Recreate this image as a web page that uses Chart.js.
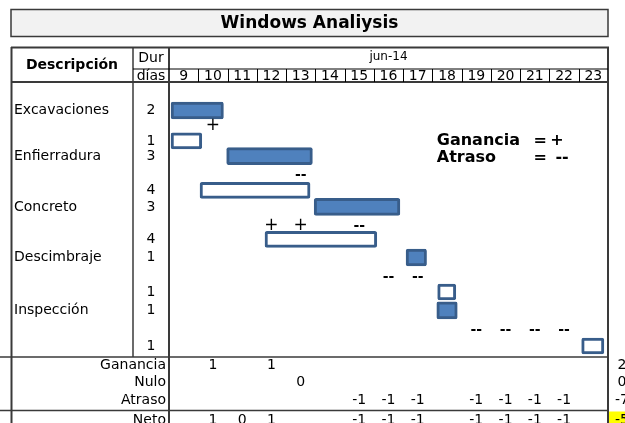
<!DOCTYPE html>
<html>
<head>
<meta charset="utf-8">
<script src="https://cdn.jsdelivr.net/npm/chart.js@4/dist/chart.umd.min.js"></script>
<style>
  html, body { margin: 0; padding: 0; background: #fff; }
  canvas { display: block; }
</style>
</head>
<body>
<canvas id="gantt" width="625" height="423"></canvas>
<script>
// datos del cuadro
const chartTitle = 'Windows Analiysis';
const monthLabel = 'jun-14';
const days = [9, 10, 11, 12, 13, 14, 15, 16, 17, 18, 19, 20, 21, 22, 23];

const tasks = ['Excavaciones', 'Enfierradura', 'Concreto', 'Descimbraje', 'Inspección'];
const durPlan = [2, 3, 3, 1, 1];
const durReal = [1, 4, 4, 1, 1];

// barras (en días)
const planStart = [9.07, 10.97, 13.96, 17.1, 18.15];
const planEnd = [10.86, 13.9, 16.89, 17.8, 18.85];
const realStart = [9.07, 10.06, 12.28, 18.18, 23.1];
const realEnd = [10.12, 13.82, 16.1, 18.8, 23.86];

// filas (eje vertical)
const planRow = [1.66, 4.31, 7.27, 10.21, 13.29];
const realRow = [3.43, 6.31, 9.16, 12.22, 15.36];
const markRow = [2.53, 5.41, 8.38, 11.35, 14.46];

// marcas + y --
const gainDays = [[10], [], [12, 13], [], []];
const delayDays = [[], [13], [15], [16, 17], [19, 20, 21, 22]];

// resumen
const summaryLabels = ['Ganancia', 'Nulo', 'Atraso', 'Neto'];
const summaryRows = [16.47, 17.47, 18.53, 19.7];
const ganancia = ['', 1, '', 1, '', '', '', '', '', '', '', '', '', '', ''];
const nulo = ['', '', '', '', 0, '', '', '', '', '', '', '', '', '', ''];
const atraso = ['', '', '', '', '', '', -1, -1, -1, '', -1, -1, -1, -1, ''];
const neto = ['', 1, 0, 1, '', '', -1, -1, -1, '', -1, -1, -1, -1, ''];
const totals = [2, 0, -7, -5];

const FONT = '"DejaVu Sans", Verdana, sans-serif';
const LINE = '#3a3a3a';

function text(ctx, str, x, y, font, align) {
    ctx.font = font;
    ctx.textAlign = align || 'center';
    ctx.textBaseline = 'middle';
    ctx.fillStyle = '#000';
    ctx.fillText(String(str), x, y);
}

function line(ctx, x1, y1, x2, y2, w, color) {
    ctx.beginPath();
    ctx.lineWidth = w;
    ctx.strokeStyle = color || LINE;
    ctx.moveTo(x1, y1);
    ctx.lineTo(x2, y2);
    ctx.stroke();
}

// dibuja la tabla alrededor del gráfico
const tablePlugin = {
    id: 'tabla',
    beforeDraw(chart) {
        const ctx = chart.ctx;
        const a = chart.chartArea;
        ctx.save();
        // título
        ctx.fillStyle = '#f2f2f2';
        ctx.fillRect(11, 9.5, a.right - 11, 27);
        ctx.lineWidth = 1.5;
        ctx.strokeStyle = LINE;
        ctx.strokeRect(11, 9.5, a.right - 11, 27);
        text(ctx, chartTitle, (11 + a.right) / 2, 23.5, 'bold 17px ' + FONT);
        ctx.restore();
    },
    afterDraw(chart) {
        const ctx = chart.ctx;
        const a = chart.chartArea;
        const xs = chart.scales.x;
        const ys = chart.scales.y;
        const H = chart.height;
        const durX = 133;
        const dayTop = 69;
        const f = '14px ' + FONT;
        ctx.save();

        // líneas
        line(ctx, 11, 47.5, a.right + 1, 47.5, 2);
        line(ctx, 11.5, 47, 11.5, H, 2);
        line(ctx, a.right, 47, a.right, H, 2);
        line(ctx, a.left, 47, a.left, H, 2);
        line(ctx, durX, 47, durX, a.bottom, 1.5);
        line(ctx, durX, dayTop, a.right, dayTop, 1, '#000');
        line(ctx, 11, a.top, a.right, a.top, 2);
        line(ctx, 0, a.bottom, a.right, a.bottom, 1.5);
        line(ctx, 0, 410.5, a.right, 410.5, 1.5);
        days.forEach(d => {
            if (d === days[0]) return;
            const x = Math.round(xs.getPixelForValue(d)) + 0.5;
            line(ctx, x, dayTop, x, a.top, 1, '#000');
        });

        // encabezado
        text(ctx, 'Descripción', 72, 65, 'bold 14px ' + FONT);
        text(ctx, 'Dur', (durX + a.left) / 2, 58, f);
        text(ctx, 'días', (durX + a.left) / 2, 76, f);
        text(ctx, monthLabel, (a.left + a.right) / 2, 57, '12px ' + FONT);
        days.forEach(d => {
            text(ctx, d, xs.getPixelForValue(d + 0.5), 76, f);
        });

        // descripción y duración
        tasks.forEach((t, i) => {
            const yp = ys.getPixelForValue(planRow[i]);
            const yr = ys.getPixelForValue(realRow[i]);
            text(ctx, t, 14, yp, f, 'left');
            text(ctx, durPlan[i], (durX + a.left) / 2, yp, f);
            text(ctx, durReal[i], (durX + a.left) / 2, yr, f);
            const ym = ys.getPixelForValue(markRow[i]);
            gainDays[i].forEach(d => text(ctx, '+', xs.getPixelForValue(d + 0.5), ym, '17px ' + FONT));
            delayDays[i].forEach(d => text(ctx, '--', xs.getPixelForValue(d + 0.5), ym, 'bold 14px ' + FONT));
        });

        // leyenda
        const lg = ys.getPixelForValue(3.4);
        const la = ys.getPixelForValue(4.4);
        text(ctx, 'Ganancia', xs.getPixelForValue(18.15), lg, 'bold 16px ' + FONT, 'left');
        text(ctx, '=', xs.getPixelForValue(21.68), lg, 'bold 16px ' + FONT);
        text(ctx, '+', xs.getPixelForValue(22.26), lg, 'bold 16px ' + FONT);
        text(ctx, 'Atraso', xs.getPixelForValue(18.15), la, 'bold 16px ' + FONT, 'left');
        text(ctx, '=', xs.getPixelForValue(21.68), la, 'bold 16px ' + FONT);
        text(ctx, '--', xs.getPixelForValue(22.43), la, 'bold 16px ' + FONT);

        // resumen
        ctx.fillStyle = '#ffff00';
        ctx.fillRect(a.right + 1, 411.5, 30, 20);
        [ganancia, nulo, atraso, neto].forEach((row, r) => {
            const y = ys.getPixelForValue(summaryRows[r]);
            text(ctx, summaryLabels[r], a.left - 3, y, f, 'right');
            row.forEach((v, i) => {
                if (v === '') return;
                text(ctx, v, xs.getPixelForValue(days[i] + 0.5), y, f);
            });
            text(ctx, totals[r], a.right + 14, y, f);
        });
        ctx.restore();
    }
};

const ctx = document.getElementById('gantt').getContext('2d');
new Chart(ctx, {
    type: 'bar',
    data: {
        datasets: [{
            label: 'Programado',
            data: tasks.map((t, i) => ({ x: [planStart[i], planEnd[i]], y: planRow[i] })),
            backgroundColor: '#4f81bd',
            borderColor: '#385d8a',
            borderWidth: 3,
            borderSkipped: false,
            borderRadius: 2,
            barThickness: 17
        }, {
            label: 'Real',
            data: tasks.map((t, i) => ({ x: [realStart[i], realEnd[i]], y: realRow[i] })),
            backgroundColor: '#ffffff',
            borderColor: '#385d8a',
            borderWidth: 3,
            borderSkipped: false,
            borderRadius: 2,
            barThickness: 16
        }]
    },
    options: {
        indexAxis: 'y',
        responsive: false,
        animation: false,
        devicePixelRatio: 1,
        layout: { padding: { left: 169, top: 82, right: 17, bottom: 66 } },
        plugins: {
            legend: { display: false },
            tooltip: { enabled: false },
            title: { display: false }
        },
        datasets: { bar: { grouped: false } },
        scales: {
            x: { type: 'linear', min: 9, max: 24, display: false },
            y: { type: 'linear', min: 0, max: 16, reverse: true, offset: false, display: false }
        }
    },
    plugins: [tablePlugin]
});
</script>
</body>
</html>
